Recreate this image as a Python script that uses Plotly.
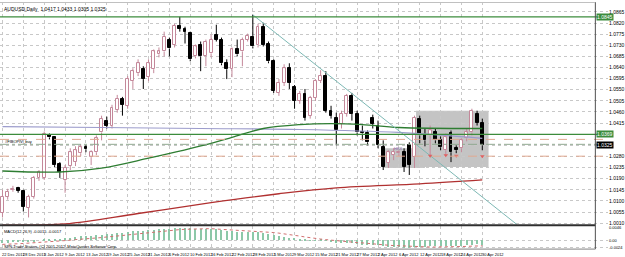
import plotly.graph_objects as go

# ---------------- data ----------------
date_labels = ["22 Dec 2011", "28 Dec 2011", "3 Jan 2012", "9 Jan 2012", "13 Jan 2012",
               "19 Jan 2012", "25 Jan 2012", "31 Jan 2012", "6 Feb 2012", "10 Feb 2012",
               "16 Feb 2012", "22 Feb 2012", "28 Feb 2012", "5 Mar 2012", "9 Mar 2012",
               "15 Mar 2012", "21 Mar 2012", "27 Mar 2012", "2 Apr 2012", "6 Apr 2012",
               "12 Apr 2012", "18 Apr 2012", "24 Apr 2012", "30 Apr 2012"]
date_label_bars = [0, 4, 8, 12, 16, 20, 24, 28, 32, 36, 40, 44, 48, 52, 56, 60, 64, 68,
                   72, 76, 80, 84, 88, 92]

opens = [1.0053, 1.0117, 1.0145, 1.0153, 1.0141, 1.0073, 1.0117, 1.0193, 1.0193, 1.0365,
         1.0357, 1.0249, 1.0185, 1.0241, 1.0257, 1.0293, 1.0317, 1.0277, 1.0297, 1.0377,
         1.0425, 1.0405, 1.0469, 1.0513, 1.0485, 1.0585, 1.0617, 1.0633, 1.0601, 1.0633,
         1.0693, 1.0705, 1.0753, 1.0733, 1.0809, 1.0797, 1.0781, 1.0685, 1.0733, 1.0685,
         1.0697, 1.0773, 1.0753, 1.0657, 1.0633, 1.0713, 1.0705, 1.0753, 1.0765, 1.0729,
         1.0805, 1.0737, 1.0665, 1.0537, 1.0577, 1.0637, 1.0561, 1.0505, 1.0533, 1.0445,
         1.0517, 1.0585, 1.0605, 1.0465, 1.0437, 1.0413, 1.0453, 1.0525, 1.0453, 1.0377,
         1.0373, 1.0437, 1.0405, 1.0317, 1.0253, 1.0285, 1.0293, 1.0297, 1.0325, 1.0277,
         1.0433, 1.0365, 1.0365, 1.0377, 1.0345, 1.0305, 1.0373, 1.0313, 1.0313, 1.0353,
         1.0377, 1.0453, 1.0417]
highs = [1.0145, 1.0149, 1.0161, 1.0157, 1.0145, 1.0125, 1.0201, 1.0225, 1.0381, 1.0373,
         1.0361, 1.0257, 1.0245, 1.0313, 1.0321, 1.0329, 1.0325, 1.0305, 1.0365, 1.0445,
         1.0441, 1.0489, 1.0529, 1.0521, 1.0605, 1.0637, 1.0673, 1.0645, 1.0673, 1.0713,
         1.0721, 1.0785, 1.0761, 1.0817, 1.0845, 1.0805, 1.0785, 1.0733, 1.0745, 1.0753,
         1.0773, 1.0813, 1.0761, 1.0673, 1.0721, 1.0753, 1.0761, 1.0777, 1.0853, 1.0817,
         1.0821, 1.0745, 1.0673, 1.0593, 1.0653, 1.0657, 1.0569, 1.0545, 1.0553, 1.0525,
         1.0593, 1.0629, 1.0625, 1.0485, 1.0457, 1.0465, 1.0533, 1.0537, 1.0465, 1.0405,
         1.0385, 1.0449, 1.0425, 1.0345, 1.0305, 1.0313, 1.0305, 1.0313, 1.0337, 1.0445,
         1.0445, 1.0393, 1.0405, 1.0393, 1.0361, 1.0373, 1.0385, 1.0325, 1.0353, 1.0393,
         1.0473, 1.0465, 1.0433]
lows = [1.0033, 1.0105, 1.0137, 1.0133, 1.0057, 1.0033, 1.0109, 1.0181, 1.0185, 1.0349,
        1.0237, 1.0193, 1.0133, 1.0225, 1.0241, 1.0281, 1.0297, 1.0245, 1.0285, 1.0345,
        1.0393, 1.0393, 1.0457, 1.0445, 1.0473, 1.0553, 1.0605, 1.0553, 1.0585, 1.0617,
        1.0681, 1.0685, 1.0685, 1.0721, 1.0785, 1.0737, 1.0665, 1.0677, 1.0625, 1.0645,
        1.0681, 1.0745, 1.0649, 1.0593, 1.0601, 1.0685, 1.0645, 1.0745, 1.0717, 1.0721,
        1.0725, 1.0657, 1.0537, 1.0525, 1.0565, 1.0553, 1.0473, 1.0493, 1.0425, 1.0433,
        1.0505, 1.0577, 1.0457, 1.0433, 1.0325, 1.0393, 1.0441, 1.0425, 1.0365, 1.0345,
        1.0325, 1.0393, 1.0313, 1.0225, 1.0233, 1.0265, 1.0281, 1.0217, 1.0205, 1.0233,
        1.0333, 1.0321, 1.0277, 1.0333, 1.0305, 1.0285, 1.0257, 1.0293, 1.0297, 1.0341,
        1.0365, 1.0405, 1.0305]
closes = [1.0117, 1.0137, 1.0149, 1.0141, 1.0077, 1.0117, 1.0193, 1.0217, 1.0369, 1.0357,
          1.0245, 1.0217, 1.0233, 1.0297, 1.0305, 1.0317, 1.0309, 1.0297, 1.0353, 1.0433,
          1.0405, 1.0477, 1.0513, 1.0489, 1.0593, 1.0625, 1.0657, 1.0593, 1.0657, 1.0705,
          1.0705, 1.0765, 1.0717, 1.0809, 1.0797, 1.0785, 1.0673, 1.0725, 1.0685, 1.0745,
          1.0753, 1.0753, 1.0657, 1.0633, 1.0713, 1.0693, 1.0753, 1.0769, 1.0725, 1.0805,
          1.0733, 1.0665, 1.0545, 1.0577, 1.0637, 1.0577, 1.0505, 1.0533, 1.0437, 1.0517,
          1.0585, 1.0605, 1.0465, 1.0445, 1.0385, 1.0453, 1.0525, 1.0453, 1.0377, 1.0373,
          1.0337, 1.0413, 1.0325, 1.0237, 1.0297, 1.0297, 1.0297, 1.0237, 1.0245, 1.0437,
          1.0365, 1.0345, 1.0385, 1.0345, 1.0317, 1.0357, 1.0297, 1.0305, 1.0345, 1.0377,
          1.0465, 1.0417, 1.0325]

# moving averages (bar index, value)
ma_red_bars = [0, 12, 26, 40, 53, 64, 80, 92]
ma_red_vals = [1.0002, 1.0007, 1.0049, 1.0093, 1.0129, 1.0153, 1.0169, 1.0185]
ma_green_bars = [0, 11, 19, 28, 40, 44, 50, 57, 63, 69, 76, 92]
ma_green_vals = [1.0221, 1.0217, 1.0233, 1.0273, 1.0333, 1.0357, 1.0393, 1.0409, 1.0413,
                 1.0409, 1.0397, 1.0393]
ma_blue_bars = [0, 19, 38, 57, 76, 92]
ma_blue_vals = [1.0401, 1.0397, 1.0393, 1.0389, 1.0377, 1.0353]

macd_main = [-0.0008, -0.0007, -0.0006, -0.0005, -0.0005, -0.0004,
             -0.0002, 0.0000, 0.0004, 0.0006, 0.0006, 0.0006,
             0.0008, 0.0010, 0.0012, 0.0014, 0.0015, 0.0015,
             0.0017, 0.0020, 0.0021, 0.0023, 0.0025, 0.0026,
             0.0029, 0.0031, 0.0033, 0.0033, 0.0035, 0.0037,
             0.0038, 0.0040, 0.0040, 0.0042, 0.0043, 0.0043,
             0.0041, 0.0040, 0.0039, 0.0039, 0.0039, 0.0038,
             0.0035, 0.0032, 0.0031, 0.0030, 0.0030, 0.0030,
             0.0028, 0.0028, 0.0026, 0.0023, 0.0018, 0.0015,
             0.0013, 0.0010, 0.0007, 0.0005, 0.0002, 0.0001,
             0.0001, 0.0002, -0.0001, -0.0004, -0.0008, -0.0009,
             -0.0008, -0.0009, -0.0012, -0.0014, -0.0016, -0.0016,
             -0.0017, -0.0020, -0.0021, -0.0021, -0.0022, -0.0024,
             -0.0025, -0.0022, -0.0021, -0.0021, -0.0020, -0.0020,
             -0.0020, -0.0019, -0.0019, -0.0019, -0.0018, -0.0017,
             -0.0014, -0.0013, -0.0015]
macd_signal = [-0.0012, -0.0012, -0.0011, -0.0010, -0.0009, -0.0008,
               -0.0007, -0.0006, -0.0005, -0.0004, -0.0002, -0.0001,
               0.0001, 0.0002, 0.0004, 0.0005, 0.0007, 0.0008,
               0.0010, 0.0011, 0.0013, 0.0014, 0.0016, 0.0018,
               0.0020, 0.0022, 0.0024, 0.0026, 0.0028, 0.0030,
               0.0032, 0.0033, 0.0035, 0.0036, 0.0038, 0.0039,
               0.0040, 0.0041, 0.0041, 0.0041, 0.0041, 0.0040,
               0.0040, 0.0039, 0.0038, 0.0037, 0.0036, 0.0034,
               0.0033, 0.0031, 0.0030, 0.0029, 0.0028, 0.0026,
               0.0024, 0.0021, 0.0018, 0.0016, 0.0013, 0.0010,
               0.0008, 0.0006, 0.0004, 0.0002, 0.0000, -0.0002,
               -0.0003, -0.0004, -0.0006, -0.0007, -0.0009, -0.0010,
               -0.0012, -0.0013, -0.0015, -0.0016, -0.0017, -0.0018,
               -0.0019, -0.0020, -0.0021, -0.0021, -0.0021, -0.0021,
               -0.0021, -0.0021, -0.0020, -0.0020, -0.0020, -0.0019,
               -0.0018, -0.0017, -0.0017]

price_ticks = [1.0865, 1.0820, 1.0775, 1.0730, 1.0685, 1.0640, 1.0595, 1.0550, 1.0505,
               1.0460, 1.0415, 1.0370, 1.0325, 1.0280, 1.0235, 1.0190, 1.0145, 1.0100,
               1.0055, 1.0010]
macd_ticks = [0.0046, 0.0, -0.0024]
macd_tick_text = ["0.0046", "0.00", "-0.0024"]

resistance_level = 1.0845
support_level = 1.0369
pivot_dash_levels = [1.0349, 1.0281]
pivot_dashdot_level = 1.0329
trend_bars = [48, 98.6]
trend_vals = [1.0853, 1.0005]
box_a = dict(bars=[72.9, 81.0], vals=[1.0313, 1.0233])
box_b = dict(bars=[79.3, 93.2], vals=[1.0465, 1.0237])
sell_arrow_bars = [82, 85, 87, 92]
sell_arrow_vals = [1.0283, 1.0285, 1.0283, 1.0281]
note_bar = 76
note_val = 1.0311
note_text = "HKX"

# ---------------- figure ----------------
W, H = 625, 257
PLOT_R = 612
x_lo, x_hi = -0.476, 116.1
main_dom = [1 - 226 / H, 1.0]
macd_dom = [1 - 250 / H, 1 - 227 / H]

BULL = "#C4889A"
BEAR = "#000000"

fig = go.Figure()

n = len(opens)
idx = list(range(n))
bull = [closes[i] >= opens[i] for i in idx]

# wicks (split around the body)
for is_bull, col in [(True, BULL), (False, BEAR)]:
    wx, wy = [], []
    for i in idx:
        if bull[i] != is_bull:
            continue
        top = max(opens[i], closes[i])
        bot = min(opens[i], closes[i])
        wx += [i, i, None, i, i, None]
        wy += [highs[i], top, None, bot, lows[i], None]
    fig.add_trace(go.Scatter(x=wx, y=wy, mode="lines", line=dict(color=col, width=1),
                             hoverinfo="skip", showlegend=False, yaxis="y"))

# bodies
body_base = [min(opens[i], closes[i]) for i in idx]
body_h = [max(abs(closes[i] - opens[i]), 0.00008) for i in idx]
fig.add_trace(go.Bar(x=idx, y=body_h, base=body_base, width=0.55,
                     marker=dict(color=["#FFFFFF" if b else BEAR for b in bull],
                                 line=dict(color=[BULL if b else BEAR for b in bull], width=1)),
                     showlegend=False, yaxis="y"))

# moving averages
fig.add_trace(go.Scatter(x=ma_blue_bars, y=ma_blue_vals, mode="lines", line=dict(color="#9C9CCC", width=1.2, shape="spline"),
                         showlegend=False, yaxis="y"))
fig.add_trace(go.Scatter(x=ma_green_bars, y=ma_green_vals, mode="lines", line=dict(color="#2E7D32", width=1.3, shape="spline"),
                         showlegend=False, yaxis="y"))
fig.add_trace(go.Scatter(x=ma_red_bars, y=ma_red_vals, mode="lines", line=dict(color="#B03030", width=1.3, shape="spline"),
                         showlegend=False, yaxis="y"))
# trend line
fig.add_trace(go.Scatter(x=trend_bars, y=trend_vals, mode="lines", line=dict(color="#7DB8B4", width=1),
                         showlegend=False, yaxis="y"))
# sell arrows
fig.add_trace(go.Scatter(x=sell_arrow_bars, y=sell_arrow_vals, mode="markers",
                         marker=dict(symbol="triangle-down", size=4, color="#E06060"),
                         showlegend=False, yaxis="y"))

# MACD
fig.add_trace(go.Bar(x=idx, y=macd_main, width=0.22, marker=dict(color="#8CC8A8", line=dict(width=0)),
                     showlegend=False, yaxis="y2"))
fig.add_trace(go.Scatter(x=idx, y=macd_signal, mode="lines", line=dict(color="#D07070", width=1, dash="dot"),
                         showlegend=False, yaxis="y2"))

shapes = []
# grey boxes
for b in (box_a, box_b):
    shapes.append(dict(type="rect", xref="x", yref="y", x0=b["bars"][0], x1=b["bars"][1],
                       y0=b["vals"][0], y1=b["vals"][1], fillcolor="#C4C4C4", line=dict(width=0),
                       layer="below"))
# horizontal levels
for lvl in (resistance_level, support_level):
    shapes.append(dict(type="line", xref="x domain", yref="y", x0=0, x1=1, y0=lvl, y1=lvl,
                       line=dict(color="#3C8C3C", width=1.2)))
for lvl in pivot_dash_levels:
    shapes.append(dict(type="line", xref="x domain", yref="y", x0=0, x1=1, y0=lvl, y1=lvl,
                       line=dict(color="#E0A890", width=1, dash="dash")))
shapes.append(dict(type="line", xref="x domain", yref="y", x0=0, x1=1, y0=pivot_dashdot_level,
                   y1=pivot_dashdot_level, line=dict(color="#90A890", width=1, dash="dashdot")))
# panel frames
shapes.append(dict(type="line", xref="paper", yref="paper", x0=0, x1=PLOT_R / W,
                   y0=main_dom[0], y1=main_dom[0], line=dict(color="#303030", width=2)))
shapes.append(dict(type="line", xref="paper", yref="paper", x0=PLOT_R / W, x1=PLOT_R / W,
                   y0=macd_dom[0], y1=1, line=dict(color="#505050", width=1)))
shapes.append(dict(type="line", xref="paper", yref="paper", x0=0, x1=PLOT_R / W,
                   y0=macd_dom[0], y1=macd_dom[0], line=dict(color="#808080", width=1)))
shapes.append(dict(type="line", xref="paper", yref="paper", x0=0, x1=PLOT_R / W,
                   y0=1 - 0.5 / H, y1=1 - 0.5 / H, line=dict(color="#C0C0C0", width=1)))

FONT = "Liberation Sans, Arial, sans-serif"
ann = []
ann.append(dict(xref="paper", yref="paper", x=2 / W, y=1 - 2 / H, xanchor="left", yanchor="top",
                text="AUDUSD,Daily  %.4f %.4f %.4f %.4f" % (opens[-1], highs[-1], lows[-1], closes[-1]),
                showarrow=False, font=dict(size=5, color="#000000", family=FONT)))
ann.append(dict(xref="paper", yref="y", x=3 / W, y=pivot_dashdot_level + 0.0012, xanchor="left",
                yanchor="middle", text="#FIBOPIV_buy", showarrow=False,
                font=dict(size=4, color="#000000", family=FONT)))
ann.append(dict(xref="x", yref="y", x=note_bar, y=note_val, xanchor="center",
                yanchor="middle", text=note_text, showarrow=False,
                font=dict(size=4, color="#8060A0", family=FONT)))
ann.append(dict(xref="paper", yref="paper", x=2 / W, y=1 - 228 / H, xanchor="left", yanchor="top",
                text="MACD(12,26,9) %.4f %.4f" % (macd_main[-1], macd_signal[-1]), showarrow=False,
                font=dict(size=4, color="#000000", family=FONT)))
ann.append(dict(xref="paper", yref="paper", x=2 / W, y=1 - 243 / H, xanchor="left", yanchor="top",
                text="SPN Trade Station, (C) 2001-2012, MetaQuotes Software Corp.", showarrow=False,
                font=dict(size=4, color="#000000", family=FONT)))
for lbl, b in zip(date_labels, date_label_bars):
    ann.append(dict(xref="x", yref="paper", x=b - 0.4, y=1 - 251 / H, xanchor="left", yanchor="top",
                    text=lbl, showarrow=False, font=dict(size=4, color="#000000", family=FONT)))
for lvl, bg in [(resistance_level, "#3C8C3C"), (support_level, "#3C8C3C"), (closes[-1], "#000000")]:
    ann.append(dict(xref="paper", yref="y", x=(PLOT_R + 1) / W, y=lvl, xanchor="left", yanchor="middle",
                    text="%.4f" % lvl, showarrow=False, bgcolor=bg, borderpad=0,
                    font=dict(size=5, color="#FFFFFF", family=FONT)))

# price tick labels hidden where the level labels cover them
hidden = (support_level, closes[-1])
tick_text = ["" if any(abs(v - h) < 0.0020 for h in hidden) else "%.4f" % v for v in price_ticks]

fig.update_layout(
    width=W, height=H, margin=dict(l=0, r=W - PLOT_R, t=0, b=0),
    paper_bgcolor="#FFFFFF", plot_bgcolor="#FFFFFF",
    barmode="overlay", bargap=0, showlegend=False,
    shapes=shapes, annotations=ann,
    xaxis=dict(range=[x_lo, x_hi], anchor="y2", tickmode="array", tickvals=date_label_bars,
               showticklabels=False, ticks="", showgrid=True, gridcolor="#C8C8C8", griddash="dot",
               gridwidth=1, zeroline=False, showline=False, fixedrange=True),
    yaxis=dict(domain=main_dom, range=[1.0001, 1.0905], side="right", anchor="x",
               tickmode="array", tickvals=price_ticks, ticktext=tick_text,
               tickfont=dict(size=5, color="#000000", family=FONT), ticks="",
               showgrid=True, gridcolor="#C8C8C8", griddash="dot", zeroline=False, showline=False),
    yaxis2=dict(domain=macd_dom, range=[-0.0028, 0.0049], side="right", anchor="x",
                tickmode="array", tickvals=macd_ticks, ticktext=macd_tick_text,
                tickfont=dict(size=4, color="#000000", family=FONT), ticks="",
                showgrid=True, gridcolor="#C8C8C8", griddash="dot", zeroline=False, showline=False),
)

fig.write_html("out.html")
